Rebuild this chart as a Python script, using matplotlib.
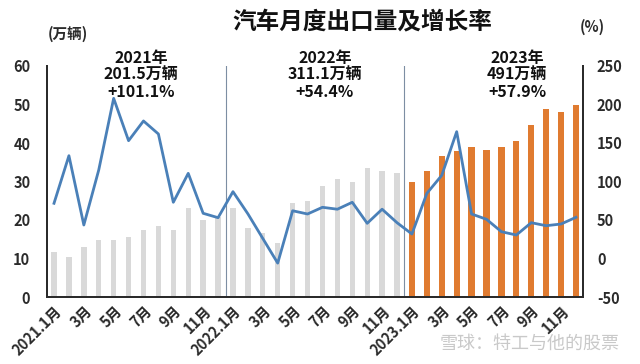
import numpy as np
import matplotlib
matplotlib.use("Agg")
import matplotlib.pyplot as plt

plt.rcParams['font.family'] = ['Noto Sans CJK SC', 'DejaVu Sans']
plt.rcParams['axes.unicode_minus'] = False

# monthly exports (10k vehicles)
exports_2021 = [11.7, 10.4, 13.0, 14.9, 14.9, 15.7, 17.3, 18.5, 17.3, 23.1, 20.1, 20.9]
exports_2022 = [23.1, 17.9, 16.6, 14.0, 24.4, 24.9, 28.9, 30.6, 30.0, 33.5, 32.8, 32.3]
exports_2023 = [30.0, 32.8, 36.7, 38.0, 38.9, 38.1, 38.9, 40.6, 44.6, 48.8, 48.1, 49.9]

# year-on-year growth (%)
growth = [71.7, 133.5, 43.5, 115, 208, 153, 178.6, 161.7, 73, 110.6, 58.7, 53,
          86.8, 58, 26, -6, 62, 57.8, 66.5, 64, 73, 45.7, 64, 46.5,
          31.8, 84.6, 108, 164.7, 57.8, 50.9, 34.8, 30.5, 46.5, 42.6, 44.8, 53.5]

tick_labels = ['2021.1月', '3月', '5月', '7月', '9月', '11月',
               '2022.1月', '3月', '5月', '7月', '9月', '11月',
               '2023.1月', '3月', '5月', '7月', '9月', '11月']

year_notes = ['2021年\n201.5万辆\n+101.1%', '2022年\n311.1万辆\n+54.4%', '2023年\n491万辆\n+57.9%']

grey = '#d9d9d9'
orange = '#e07b30'
blue = '#4a80b8'
dark = '#2b2b2b'

fig = plt.figure(figsize=(6.4, 3.64), dpi=100)
ax = fig.add_axes([47 / 640, 1 - 297 / 364, (583 - 47) / 640, (297 - 66) / 364])
ax2 = ax.twinx()

x_old = np.arange(24)
x_new = np.arange(24, 36)
ax.bar(x_old, exports_2021 + exports_2022, width=0.36, color=grey, zorder=1)
ax.bar(x_new, exports_2023, width=0.42, color=orange, zorder=1)

ax2.plot(np.arange(36), growth, color=blue, lw=2.0, zorder=3)

# year separators
for xs in [11.5, 23.5]:
    ax.axvline(xs, color='#7d8ea3', lw=0.8, zorder=2)

ax.set_xlim(-0.47, 35.47)
ax.set_ylim(0, 60)
ax2.set_ylim(-50, 250)
ax.set_yticks(np.arange(0, 61, 10))
ax2.set_yticks(np.arange(-50, 251, 50))

ax.set_xticks(np.arange(0, 36, 2))
ax.set_xticklabels(tick_labels, rotation=45, ha='right', va='top',
                   rotation_mode='anchor', fontsize=9.5, fontweight='bold', color=dark)

for a in (ax, ax2):
    a.tick_params(length=0, labelsize=10.5, colors=dark)
    for lab in a.get_yticklabels():
        lab.set_fontweight('bold')
    a.spines['top'].set_visible(False)
    for s in ['left', 'right', 'bottom']:
        a.spines[s].set_color(dark)
        a.spines[s].set_linewidth(1.4)
ax.tick_params(axis='y', pad=12)
ax2.tick_params(axis='y', pad=10)
ax.tick_params(axis='x', pad=4)

fig.text(362 / 640, 1 - 21 / 364, '汽车月度出口量及增长率', ha='center', va='center',
         fontsize=17, fontweight='bold', color='#111111')
fig.text(68 / 640, 1 - 34 / 364, '(万辆)', ha='center', va='center',
         fontsize=10.5, fontweight='bold', color=dark)
fig.text(592 / 640, 1 - 27 / 364, '(%)', ha='center', va='center',
         fontsize=10.5, fontweight='bold', color=dark)

for xc, note in zip([141, 325, 517], year_notes):
    fig.text(xc / 640, 1 - 75 / 364, note, ha='center', va='center',
             fontsize=11.5, fontweight='bold', color='#111111', linespacing=1.05)

fig.text(530 / 640, 1 - 344 / 364, '雪球：特工与他的股票', ha='center', va='center',
         fontsize=13, color='#c9c9c9')

fig.savefig('out.png', dpi=100, facecolor='white')
